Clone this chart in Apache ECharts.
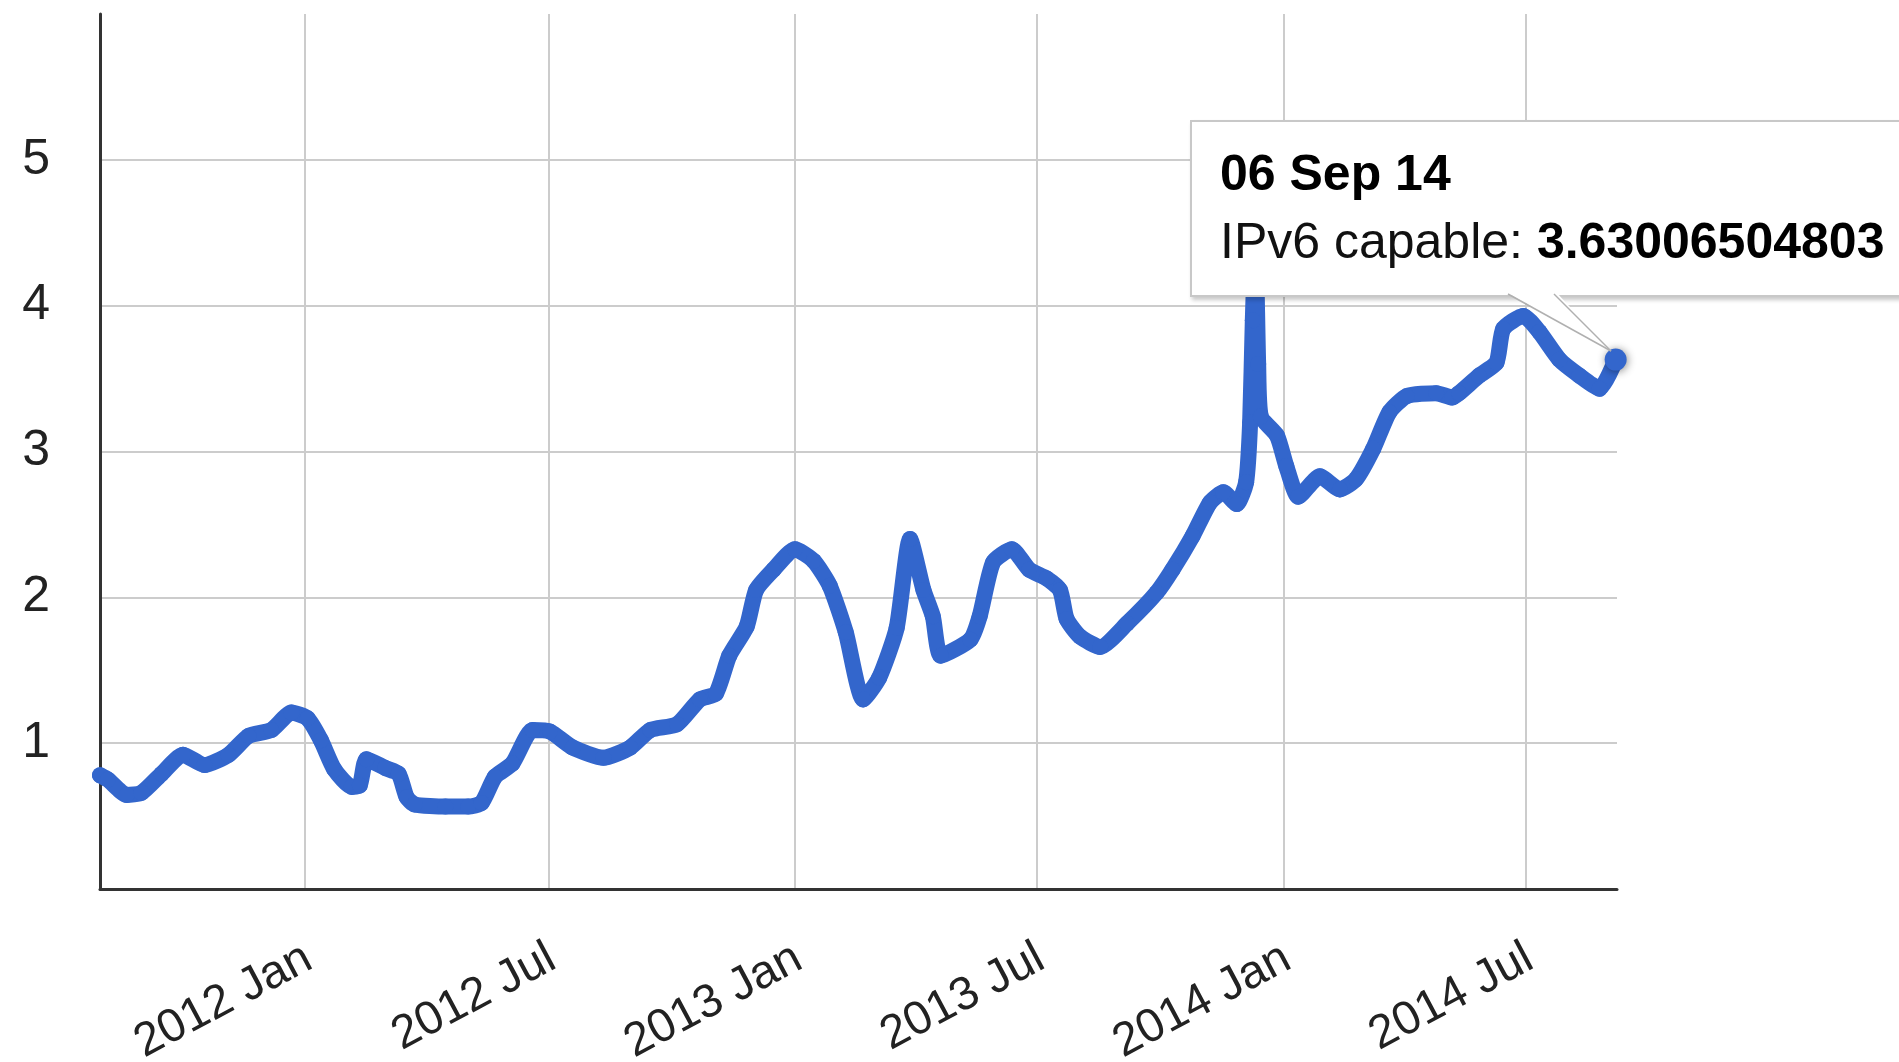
<!DOCTYPE html>
<html><head><meta charset="utf-8">
<script src="https://cdn.jsdelivr.net/npm/echarts@6/dist/echarts.min.js"></script>
<style>
html,body{margin:0;padding:0;overflow:hidden;background:#fff}
#c{width:1899px;height:1062px;overflow:hidden;position:relative}
</style>
</head><body><div id="c"></div>
<script>
const seriesName = 'IPv6 capable';
const dates = [
'2011-08-01','2011-08-07','2011-08-21','2011-09-01','2011-09-16','2011-10-02','2011-10-18','2011-11-05','2011-11-20','2011-12-07','2011-12-22',
'2012-01-03','2012-01-13','2012-01-23','2012-02-05','2012-02-11','2012-02-16','2012-03-01','2012-03-11','2012-03-17','2012-03-23','2012-04-15',
'2012-05-02','2012-05-12','2012-05-22','2012-06-04','2012-06-19','2012-07-02','2012-07-19','2012-08-11','2012-08-31','2012-09-15','2012-10-05',
'2012-10-22','2012-11-03','2012-11-13','2012-11-26','2012-12-03','2012-12-16',
'2013-01-01','2013-01-15','2013-01-27','2013-02-08','2013-02-21','2013-03-05','2013-03-18','2013-03-28','2013-04-07','2013-04-14','2013-04-20',
'2013-05-12','2013-05-19','2013-05-29','2013-06-12','2013-06-25','2013-07-08','2013-07-18','2013-07-23','2013-08-02','2013-08-17','2013-09-06',
'2013-09-28','2013-10-10','2013-10-25','2013-11-07','2013-11-17','2013-11-27','2013-12-04','2013-12-07','2013-12-09','2013-12-11','2013-12-13',
'2013-12-15','2013-12-27',
'2014-01-03','2014-01-12','2014-01-28','2014-02-12','2014-02-24','2014-03-09','2014-03-21','2014-04-03','2014-04-25','2014-05-07','2014-05-12',
'2014-05-27','2014-06-09','2014-06-14','2014-06-29','2014-07-11','2014-07-26','2014-08-10','2014-08-25','2014-09-06'
];
const values = [
0.78,0.75,0.645,0.66,0.79,0.92,0.85,0.92,1.05,1.09,1.21,
1.17,1.02,0.82,0.70,0.71,0.89,0.83,0.79,0.63,0.58,0.565,
0.565,0.59,0.77,0.86,1.09,1.08,0.97,0.90,0.97,1.09,1.13,
1.30,1.34,1.60,1.80,2.05,2.19,
2.33,2.25,2.08,1.76,1.30,1.45,1.79,2.40,2.05,1.87,1.60,
1.71,1.87,2.24,2.33,2.19,2.13,2.05,1.85,1.73,1.66,1.82,
2.03,2.19,2.42,2.65,2.72,2.64,2.79,3.20,3.90,4.40,3.60,
3.24,3.11,
2.90,2.69,2.83,2.74,2.81,3.02,3.27,3.38,3.40,3.37,3.40,
3.52,3.61,3.84,3.93,3.82,3.63,3.52,3.43,3.63006504803
];
const xTicks = ['2012-01-01','2012-07-01','2013-01-01','2013-07-01','2014-01-01','2014-07-01'];
const xMin = '2011-08-01';
const xMax = '2014-09-07';
const yMin = 0, yMax = 6, yStep = 1;
const monthNames = ['Jan','Feb','Mar','Apr','May','Jun','Jul','Aug','Sep','Oct','Nov','Dec'];

const FONT = '"Liberation Sans", Arial, Helvetica, sans-serif';
function toTime(s) { const p = s.split('-'); return Date.UTC(+p[0], +p[1] - 1, +p[2]); }
const last = values.length - 1;
const seriesData = dates.map((d, i) => {
  const item = { value: [toTime(d), values[i]] };
  if (i === last) {
    item.symbolSize = 22;
    item.itemStyle = { shadowBlur: 8, shadowColor: 'rgba(0,0,0,0.45)', shadowOffsetX: 1, shadowOffsetY: 1 };
  }
  return item;
});

function fmtTip(ds) {
  const p = ds.split('-');
  return p[2] + ' ' + monthNames[+p[1] - 1] + ' ' + p[0].slice(2);
}

const pointerSvg =
  '<svg width="440" height="70" style="position:absolute;left:-2px;top:calc(100% - 2px);overflow:visible">' +
  '<polygon points="316,-1 366,-1 421,58" fill="#fff"/>' +
  '<line x1="318" y1="1" x2="421" y2="58" stroke="#b0b0b0" stroke-width="1.5"/>' +
  '<line x1="364" y1="1" x2="421" y2="58" stroke="#b0b0b0" stroke-width="1.5"/>' +
  '</svg>';

const chart = echarts.init(document.getElementById('c'), null, { renderer: 'canvas' });
chart.setOption({
  animation: false,
  backgroundColor: '#fff',
  grid: { left: 100, right: 282, top: 14, bottom: 173, containLabel: false, outerBoundsMode: 'none' },
  xAxis: {
    type: 'value',
    min: toTime(xMin),
    max: toTime(xMax),
    axisLine: { show: true, onZero: false, lineStyle: { color: '#333', width: 3 } },
    axisTick: { show: false, customValues: xTicks.map(toTime) },
    splitLine: { show: true, lineStyle: { color: '#cccccc', width: 2 } },
    axisLabel: {
      customValues: xTicks.map(toTime),
      rotate: 28,
      align: 'right',
      verticalAlign: 'top',
      margin: 42,
      fontSize: 47,
      fontFamily: FONT,
      color: '#222',
      formatter: v => { const d = new Date(v); return '{t|' + d.getUTCFullYear() + ' ' + monthNames[d.getUTCMonth()] + '}'; },
      rich: { t: { fontSize: 47, fontFamily: FONT, color: '#222', padding: [0, 8, 0, 0] } }
    }
  },
  yAxis: {
    type: 'value',
    min: yMin, max: yMax, interval: yStep,
    axisLine: { show: true, lineStyle: { color: '#333', width: 3 } },
    axisTick: { show: false },
    splitLine: { show: true, showMinLine: false, showMaxLine: false, lineStyle: { color: '#cccccc', width: 2 } },
    axisLabel: {
      showMinLabel: false, showMaxLabel: false,
      margin: 50,
      fontSize: 50,
      fontFamily: FONT,
      color: '#222'
    }
  },
  tooltip: {
    show: true,
    trigger: 'item',
    triggerOn: 'none',
    alwaysShowContent: true,
    transitionDuration: 0,
    confine: false,
    backgroundColor: '#fff',
    borderColor: '#c8c8c8',
    borderWidth: 2,
    padding: [17, 40, 20, 28],
    textStyle: { fontFamily: FONT, fontSize: 50, color: '#000' },
    extraCssText: 'border-radius:0;box-shadow:2px 3px 4px rgba(0,0,0,0.22);white-space:nowrap;overflow:visible;line-height:68px;',
    position: (point) => [point[0] - 426, point[1] - 240],
    formatter: p =>
      '<div style="font-weight:bold;line-height:68px;color:#000">' + fmtTip(dates[p.dataIndex]) + '</div>' +
      '<div style="line-height:68px;color:#111">' + p.seriesName + ': <b style="color:#000">' + values[p.dataIndex] + '</b></div>' +
      pointerSvg
  },
  series: [{
    name: seriesName,
    type: 'line',
    data: seriesData,
    smooth: 0.2,
    showSymbol: true,
    symbol: 'circle',
    symbolSize: 16,
    itemStyle: { color: '#3366cc' },
    lineStyle: { color: '#3366cc', width: 16, cap: 'round', join: 'round' },
    emphasis: { disabled: true }
  }]
});
chart.dispatchAction({ type: 'showTip', seriesIndex: 0, dataIndex: last });
</script>
</body></html>
